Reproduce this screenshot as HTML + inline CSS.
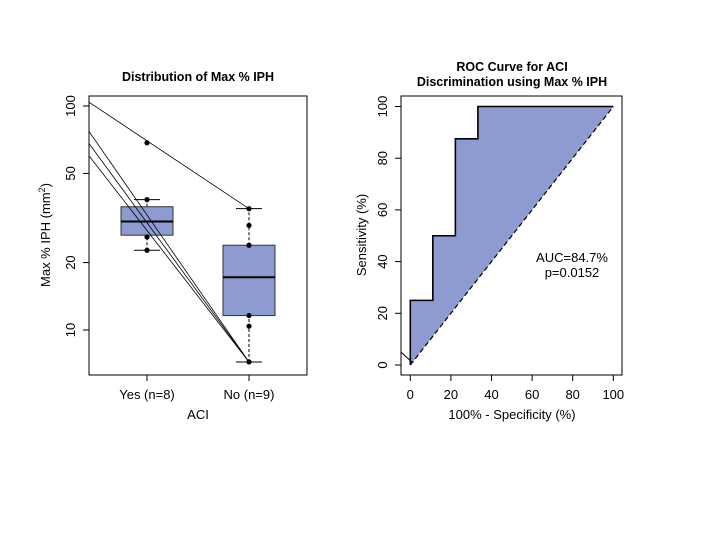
<!DOCTYPE html>
<html><head><meta charset="utf-8"><style>
body{margin:0;background:#fff;}
svg text{font-family:"Liberation Sans",Arial,sans-serif;fill:#000;}
</style></head><body>
<svg width="720" height="540" viewBox="0 0 720 540">
<g id="left"></g>
<g id="right"></g>
</svg>
<script>
const NS='http://www.w3.org/2000/svg';
function mk(tag,attrs,parent,txt){const e=document.createElementNS(NS,tag);for(const k in attrs)e.setAttribute(k,attrs[k]);if(txt!==undefined)e.textContent=txt;parent.appendChild(e);return e;}

// ---- Left chart data ----
const groups=['Yes (n=8)','No (n=9)'];
const yesPoints=[68.5,38.2,26,22.7];
const noPoints=[34.8,29.3,23.9,11.6,10.4,7.2];
const yesBox=[22.7,26.5,30.5,35.5,38.2]; // min,q1,median,q3,max
const noBox=[7.2,11.6,17.2,23.9,34.8];
const lineStarts=[104,77,68,60];
const lineEnds=[34.8,7.2,7.2,7.2];
const yTicks=[10,20,50,100];

const L=document.getElementById('left');
const lx0=89,lx1=307,ly0=96,ly1=375;
const ly=v=>106+(2-Math.log10(v))*224;
const lxc=i=>[147,249][i];

let e=mk('rect',{x:lx0,y:ly0,width:lx1-lx0,height:ly1-ly0,fill:'none',stroke:'#000','stroke-width':1},L);


[yesBox,noBox].forEach((b,i)=>{
  const c=lxc(i),hw=26,cw=13;
  const g=mk('g',{},L);
  
  mk('line',{x1:c,x2:c,y1:ly(b[0]),y2:ly(b[1]),stroke:'#000','stroke-dasharray':'3,2'},g);
  mk('line',{x1:c,x2:c,y1:ly(b[3]),y2:ly(b[4]),stroke:'#000','stroke-dasharray':'3,2'},g);
  mk('line',{x1:c-cw,x2:c+cw,y1:ly(b[0]),y2:ly(b[0]),stroke:'#000'},g);
  mk('line',{x1:c-cw,x2:c+cw,y1:ly(b[4]),y2:ly(b[4]),stroke:'#000'},g);
  mk('rect',{x:c-hw,y:ly(b[3]),width:2*hw,height:ly(b[1])-ly(b[3]),fill:'#8d9bd1',stroke:'#333'},g);
  mk('line',{x1:c-hw,x2:c+hw,y1:ly(b[2]),y2:ly(b[2]),stroke:'#000','stroke-width':2},g);
});
lineStarts.forEach((s,i)=>{
  const l=mk('line',{x1:lx0,y1:ly(s),x2:lxc(1),y2:ly(lineEnds[i]),stroke:'#000','stroke-width':0.8},L);
  
});
[yesPoints,noPoints].forEach((pts,i)=>pts.forEach(v=>{
  const c=mk('circle',{cx:lxc(i),cy:ly(v),r:2.6,fill:'#000'},L);
  
}));
yTicks.forEach(v=>{
  mk('line',{x1:lx0-6,x2:lx0,y1:ly(v),y2:ly(v),stroke:'#000'},L);
  const t=mk('text',{x:0,y:0,transform:`translate(75,${ly(v)}) rotate(-90)`,'text-anchor':'middle','font-size':13},L,String(v));
  
});
groups.forEach((g,i)=>{
  mk('line',{x1:lxc(i),x2:lxc(i),y1:ly1,y2:ly1+6,stroke:'#000'},L);
  const t=mk('text',{x:lxc(i),y:399,'text-anchor':'middle','font-size':13},L,g);
  
});
e=mk('text',{x:198,y:81,'text-anchor':'middle','font-size':12.5,'font-weight':'bold'},L,'Distribution of Max % IPH');

e=mk('text',{x:198,y:419,'text-anchor':'middle','font-size':13},L,'ACI');

e=mk('text',{transform:'translate(50,235) rotate(-90)','text-anchor':'middle','font-size':13},L);

e.innerHTML='Max % IPH  (mm<tspan dy="-5" font-size="9">2</tspan><tspan dy="5">)</tspan>';

// ---- Right chart data ----
const rocFpr=[0,0,11.1,11.1,22.2,22.2,33.3,33.3,100];
const rocTpr=[0,25,25,50,50,87.5,87.5,100,100];
const rocTicks=[0,20,40,60,80,100];

const R=document.getElementById('right');
const rx0=401,rx1=622;
const rx=v=>410.3+v*2.03;
const ry=v=>365-v*2.585;
e=mk('rect',{x:rx0,y:ly0,width:rx1-rx0,height:ly1-ly0,fill:'none',stroke:'#000'},R);

let d='M'+rocFpr.map((f,i)=>rx(f)+','+ry(rocTpr[i])).join(' L')+' Z';
e=mk('path',{d:d,fill:'#8d9bd1',stroke:'none'},R);

e=mk('line',{x1:rx(0),y1:ry(0),x2:rx(100),y2:ry(100),stroke:'#000','stroke-dasharray':'5,3','stroke-width':1.2},R);

e=mk('polyline',{points:rocFpr.map((f,i)=>rx(f)+','+ry(rocTpr[i])).join(' '),fill:'none',stroke:'#000','stroke-width':1.6},R);

mk('line',{x1:rx0,y1:ry(5),x2:rx(1),y2:ry(1),stroke:'#000'},R);
rocTicks.forEach(v=>{
  mk('line',{x1:rx0-6,x2:rx0,y1:ry(v),y2:ry(v),stroke:'#000'},R);
  let t=mk('text',{transform:`translate(387,${ry(v)}) rotate(-90)`,'text-anchor':'middle','font-size':13},R,String(v));
  
  mk('line',{x1:rx(v),x2:rx(v),y1:ly1,y2:ly1+6,stroke:'#000'},R);
  t=mk('text',{x:rx(v),y:399,'text-anchor':'middle','font-size':13},R,String(v));
  
});
e=mk('text',{x:512,y:71,'text-anchor':'middle','font-size':12.5,'font-weight':'bold'},R,'ROC Curve for ACI');

e=mk('text',{x:512,y:86,'text-anchor':'middle','font-size':12.5,'font-weight':'bold'},R,'Discrimination using Max % IPH');

e=mk('text',{x:512,y:419,'text-anchor':'middle','font-size':13},R,'100% - Specificity (%)');

e=mk('text',{transform:'translate(366,235) rotate(-90)','text-anchor':'middle','font-size':13},R,'Sensitivity (%)');

e=mk('text',{x:572,y:262,'text-anchor':'middle','font-size':13},R,'AUC=84.7%');

e=mk('text',{x:572,y:277,'text-anchor':'middle','font-size':13},R,'p=0.0152');

</script>
</body></html>
